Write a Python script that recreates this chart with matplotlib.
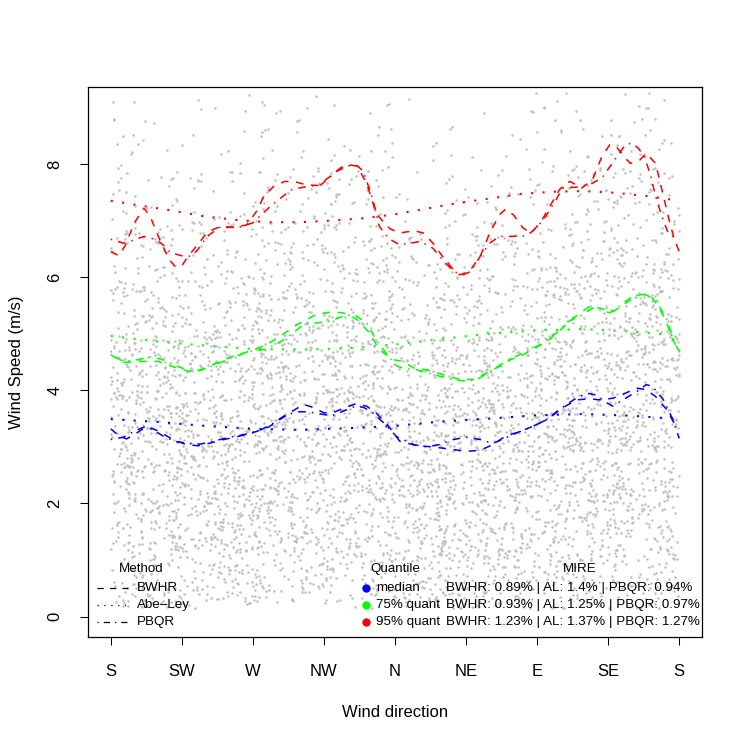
import numpy as np
import matplotlib
matplotlib.use("Agg")
import matplotlib.pyplot as plt
from matplotlib.lines import Line2D

plt.rcParams["font.family"] = ["Liberation Sans", "DejaVu Sans"]

# ---- data ----
dir_ticks = [0, 45, 90, 135, 180, 225, 270, 315, 360]
dir_labels = ["S", "SW", "W", "NW", "N", "NE", "E", "SE", "S"]

# point counts of the scatter per (speed band, 45 deg sector), estimated by eye
speed_edges = [0.15, 1, 2, 3, 4, 5, 6, 7, 8, 9, 9.3]
sector_edges = [0, 45, 90, 135, 180, 225, 270, 315, 360]
counts = [
    [70, 72, 62, 60, 80, 75, 60, 58],      # 0-1
    [105, 110, 100, 98, 118, 112, 98, 95],  # 1-2
    [118, 118, 112, 110, 125, 120, 110, 105],
    [120, 115, 118, 118, 115, 118, 120, 118],
    [100, 95, 105, 108, 88, 95, 110, 112],
    [70, 62, 80, 82, 55, 62, 85, 90],
    [45, 38, 52, 55, 32, 42, 58, 62],
    [24, 18, 30, 32, 14, 20, 32, 40],
    [12, 9, 14, 14, 6, 8, 14, 20],
    [2, 2, 3, 3, 1, 1, 3, 4],              # 9+
]

# 95% quantile
red_al_x = [0, 20, 40, 60, 80, 100, 120, 140, 160, 180, 200, 220, 240, 260, 280, 300, 320, 340, 360]
red_al_y = [7.35, 7.26, 7.17, 7.07, 7.01, 6.97, 6.97, 7.00, 7.04, 7.11, 7.21, 7.31, 7.39, 7.47, 7.51, 7.52, 7.49, 7.43, 7.35]
red_bw_x = [0, 5, 9, 15, 21, 25, 31, 37, 41, 45, 49, 55, 61, 67, 76, 86, 92, 97, 103, 110, 116, 124, 131,
            139, 145, 150, 156, 162, 168, 173, 177, 183, 192, 198, 204, 210, 217, 221, 227, 234, 240, 246,
            250, 255, 261, 266, 272, 278, 284, 288, 291, 298, 305, 311, 316, 320, 325, 329, 335, 339, 345,
            348, 351, 354, 357, 360]
red_bw_y = [6.45, 6.38, 6.55, 6.96, 7.22, 7.07, 6.66, 6.31, 6.18, 6.20, 6.37, 6.57, 6.79, 6.87, 6.88, 6.92,
            7.15, 7.43, 7.60, 7.69, 7.69, 7.63, 7.62, 7.78, 7.92, 7.99, 7.96, 7.66, 7.13, 6.96, 6.85, 6.78,
            6.82, 6.78, 6.60, 6.37, 6.13, 6.04, 6.10, 6.37, 6.78, 7.10, 7.20, 7.10, 6.87, 6.78, 6.96, 7.25,
            7.54, 7.66, 7.69, 7.57, 7.72, 8.13, 8.34, 8.31, 8.13, 8.01, 8.07, 8.19, 8.01, 7.66, 7.31, 6.96,
            6.66, 6.45]
red_pb_x = [0, 8, 14, 21, 29, 34, 38, 46, 51, 55, 61, 70, 80, 90, 101, 114, 122, 133, 143, 151, 156, 160,
            166, 170, 176, 183, 196, 204, 210, 217, 223, 228, 234, 240, 246, 253, 263, 267, 274, 282, 286,
            295, 300, 305, 311, 317, 322, 326, 330, 334, 338, 342, 345, 349, 353, 357, 360]
red_pb_y = [6.67, 6.60, 6.65, 6.72, 6.66, 6.55, 6.43, 6.37, 6.37, 6.48, 6.72, 6.90, 6.87, 6.96, 7.25, 7.54,
            7.59, 7.63, 7.87, 7.97, 7.97, 7.87, 7.37, 6.90, 6.68, 6.57, 6.63, 6.51, 6.31, 6.10, 6.04, 6.10,
            6.37, 6.60, 6.72, 6.72, 6.73, 6.81, 7.01, 7.37, 7.57, 7.59, 7.62, 7.66, 7.75, 7.99, 8.19, 8.34,
            8.37, 8.28, 8.13, 7.78, 7.43, 7.07, 6.78, 6.69, 6.67]

# 75% quantile
green_al_x = [0, 30, 60, 90, 120, 150, 180, 210, 240, 270, 300, 330, 360]
green_al_y = [4.96, 4.86, 4.79, 4.73, 4.72, 4.74, 4.81, 4.91, 5.00, 5.06, 5.08, 5.04, 4.96]
green_bw_x = [0, 8, 19, 30, 40, 50, 57, 67, 78, 88, 99, 110, 118, 130, 139, 147, 156, 164, 170, 179, 185,
              192, 200, 210, 221, 230, 238, 246, 253, 261, 267, 276, 286, 293, 303, 310, 318, 326, 335, 341,
              347, 352, 356, 360]
green_bw_y = [4.63, 4.49, 4.51, 4.51, 4.41, 4.33, 4.35, 4.48, 4.61, 4.69, 4.81, 5.01, 5.16, 5.34, 5.38, 5.37,
              5.25, 5.01, 4.72, 4.54, 4.51, 4.39, 4.36, 4.28, 4.19, 4.19, 4.31, 4.42, 4.54, 4.63, 4.72, 4.86,
              5.10, 5.28, 5.48, 5.45, 5.39, 5.54, 5.69, 5.69, 5.48, 5.19, 4.89, 4.68]
green_pb_x = [0, 4, 8, 17, 25, 32, 40, 48, 55, 63, 76, 88, 97, 105, 114, 122, 130, 139, 147, 154, 162, 168,
              175, 181, 185, 194, 204, 215, 225, 232, 240, 250, 261, 272, 282, 290, 297, 305, 316, 322, 330,
              337, 345, 352, 358, 360]
green_pb_y = [4.69, 4.57, 4.51, 4.54, 4.59, 4.55, 4.45, 4.36, 4.35, 4.41, 4.57, 4.69, 4.72, 4.81, 4.98, 5.16,
              5.19, 5.22, 5.31, 5.34, 5.19, 4.89, 4.63, 4.43, 4.39, 4.36, 4.28, 4.20, 4.16, 4.19, 4.33, 4.51,
              4.66, 4.81, 5.01, 5.22, 5.31, 5.45, 5.37, 5.48, 5.66, 5.71, 5.60, 5.25, 4.78, 4.69]

# median
blue_al_x = [0, 30, 60, 90, 120, 150, 180, 210, 240, 270, 300, 330, 360]
blue_al_y = [3.49, 3.44, 3.37, 3.32, 3.30, 3.33, 3.37, 3.45, 3.50, 3.56, 3.58, 3.55, 3.49]
blue_bw_x = [0, 5, 10, 15, 20, 25, 30, 35, 40, 48, 55, 62, 70, 80, 90, 100, 108, 115, 122, 128, 135, 142,
             149, 155, 162, 168, 175, 183, 194, 204, 215, 225, 234, 242, 250, 259, 267, 276, 282, 288, 295,
             303, 310, 318, 326, 333, 339, 345, 352, 358, 360]
blue_bw_y = [3.32, 3.20, 3.14, 3.22, 3.31, 3.34, 3.28, 3.20, 3.12, 3.04, 3.02, 3.06, 3.12, 3.18, 3.25, 3.35,
             3.50, 3.63, 3.75, 3.70, 3.60, 3.62, 3.70, 3.76, 3.72, 3.60, 3.40, 3.10, 3.02, 3.00, 2.96, 2.92,
             2.94, 3.04, 3.19, 3.27, 3.36, 3.48, 3.60, 3.72, 3.83, 3.85, 3.83, 3.86, 3.95, 4.04, 4.01, 3.89,
             3.66, 3.36, 3.32]
blue_pb_x = [0, 8, 15, 22, 28, 35, 42, 50, 57, 65, 75, 85, 95, 103, 110, 118, 125, 133, 140, 148, 155, 160,
             166, 173, 181, 192, 200, 208, 217, 225, 234, 242, 250, 259, 267, 276, 284, 293, 301, 307, 314,
             318, 326, 335, 339, 343, 350, 356, 360]
blue_pb_y = [3.13, 3.17, 3.28, 3.36, 3.28, 3.16, 3.09, 3.06, 3.05, 3.10, 3.17, 3.22, 3.30, 3.42, 3.55, 3.62,
             3.62, 3.58, 3.55, 3.64, 3.72, 3.70, 3.60, 3.42, 3.18, 3.04, 3.00, 3.04, 3.13, 3.17, 3.13, 3.06,
             3.16, 3.27, 3.36, 3.48, 3.66, 3.83, 3.95, 3.92, 3.78, 3.72, 3.86, 4.01, 4.10, 4.07, 3.83, 3.48,
             3.15]

method_labels = ["BWHR", "Abe\u2013Ley", "PBQR"]
quant_labels = ["median", "75% quant", "95% quant"]
mire_labels = ["BWHR: 0.89% | AL: 1.4% | PBQR: 0.94%",
               "BWHR: 0.93% | AL: 1.25% | PBQR: 0.97%",
               "BWHR: 1.23% | AL: 1.37% | PBQR: 1.27%"]

# ---- scatter positions: spread each cell's count inside the cell
#      (quadratic Weyl layout, so no regular lattice shows) ----
A1, A2 = 0.7548776662466927, 0.5698402909980532
pts_x, pts_y = [], []
k = 0
for bi in range(len(counts)):
    for si in range(len(counts[bi])):
        for _ in range(counts[bi][si]):
            k += 1
            u = (A1 * k * k) % 1.0
            v = (A2 * k * k + A1 * k) % 1.0
            pts_x.append(sector_edges[si] + u * (sector_edges[si + 1] - sector_edges[si]))
            pts_y.append(speed_edges[bi] + v * (speed_edges[bi + 1] - speed_edges[bi]))

# ---- figure ----
fig = plt.figure(figsize=(7.47, 7.47), dpi=100)
ax = fig.add_axes([88 / 747, 110 / 747, 614 / 747, 550 / 747])

ax.scatter(pts_x, pts_y, s=3.2, color="#BEBEBE", linewidths=0, zorder=1)

lw = 1.1
dash = (0, (5, 5))
dot = (0, (1, 4.5))
dotdash = (0, (1, 4, 5, 4))
curves = [
    (blue_al_x, blue_al_y, "blue", dot), (blue_bw_x, blue_bw_y, "blue", dash), (blue_pb_x, blue_pb_y, "blue", dotdash),
    (green_al_x, green_al_y, "#00FF00", dot), (green_bw_x, green_bw_y, "#00FF00", dash), (green_pb_x, green_pb_y, "#00FF00", dotdash),
    (red_al_x, red_al_y, "red", dot), (red_bw_x, red_bw_y, "red", dash), (red_pb_x, red_pb_y, "red", dotdash),
]
for cx, cy, col, ls in curves:
    ax.plot(cx, cy, color=col, linestyle=ls, linewidth=(1.5 if ls is dot else lw),
            dash_capstyle="butt", zorder=2)

ax.set_xlim(-14.4, 374.4)
ax.set_ylim(-0.36, 9.36)
ax.set_xticks(dir_ticks)
ax.set_xticklabels(dir_labels)
ax.set_yticks([0, 2, 4, 6, 8])
ax.set_yticklabels(["0", "2", "4", "6", "8"], rotation=90, va="center")
ax.tick_params(axis="both", direction="out", length=5.5, width=0.75, labelsize=12, colors="black")
ax.tick_params(axis="x", pad=14)
ax.tick_params(axis="y", pad=13)
for sp in ax.spines.values():
    sp.set_linewidth(0.9)

ax.set_xlabel("Wind direction", fontsize=12)
ax.set_ylabel("Wind Speed (m/s)", fontsize=12)
ax.xaxis.set_label_coords(0.5, (637 - 705) / 550)
ax.yaxis.set_label_coords((24 - 88) / 614, 0.5)


# ---- legends (no box), positioned in axes fractions ----
def fx(px):
    return (px - 88) / 614


def fy(py):
    return (637 - py) / 550


fs = 9.6
rows = [588, 605, 622]
tr = ax.transAxes
ax.text(fx(141), fy(569), "Method", transform=tr, ha="center", va="center", fontsize=fs)
for r, lab, ls in zip(rows, method_labels, [dash, dot, dotdash]):
    ax.add_line(Line2D([fx(97), fx(128)], [fy(r), fy(r)], transform=tr, color="black",
                       linestyle=ls, linewidth=0.9))
    ax.text(fx(137), fy(r), lab, transform=tr, ha="left", va="center", fontsize=fs)

ax.text(fx(395), fy(569), "Quantile", transform=tr, ha="center", va="center", fontsize=fs)
ax.text(fx(580), fy(569), "MIRE", transform=tr, ha="center", va="center", fontsize=fs)
for r, lab, mire, col in zip(rows, quant_labels, mire_labels, ["blue", "#00FF00", "red"]):
    ax.add_line(Line2D([fx(366)], [fy(r)], transform=tr, marker="o", markersize=5,
                       color=col, linestyle="none"))
    ax.text(fx(376), fy(r), lab, transform=tr, ha="left", va="center", fontsize=fs)
    ax.text(fx(446), fy(r), mire, transform=tr, ha="left", va="center", fontsize=fs)

fig.savefig("out.png", dpi=100)
